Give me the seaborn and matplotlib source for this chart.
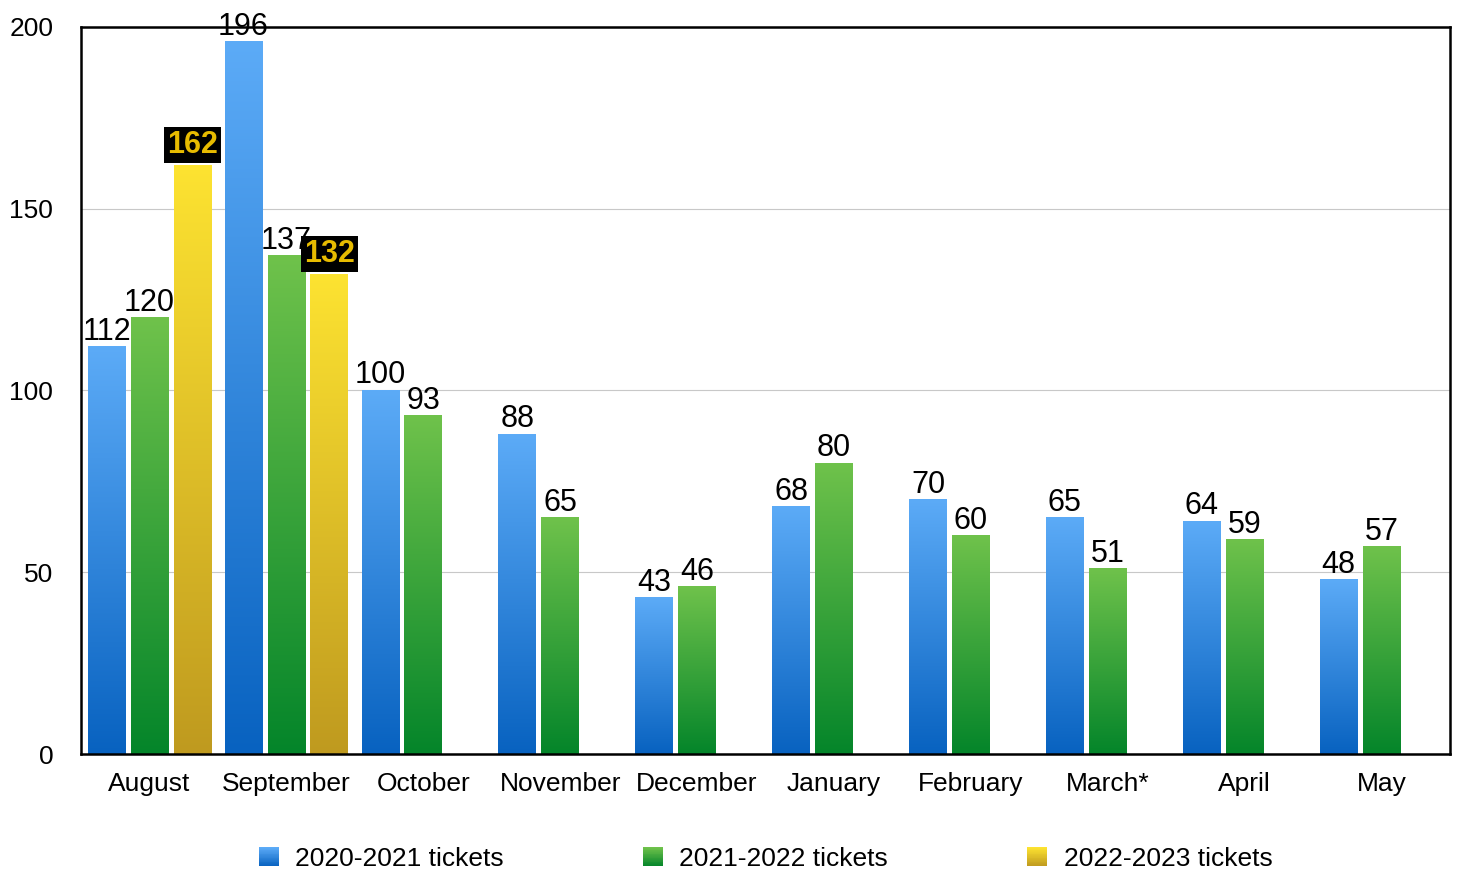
import numpy as np
import pandas as pd
import matplotlib
matplotlib.use("Agg")
import matplotlib.pyplot as plt
import seaborn as sns
from matplotlib.colors import LinearSegmentedColormap
from matplotlib.legend_handler import HandlerBase
from matplotlib.patches import Rectangle

# data
months = ["August", "September", "October", "November", "December",
          "January", "February", "March*", "April", "May"]
tickets_2020 = [112, 196, 100, 88, 43, 68, 70, 65, 64, 48]
tickets_2021 = [120, 137, 93, 65, 46, 80, 60, 51, 59, 57]
tickets_2022 = [162, 132]  # only August and September so far
seasons = ["2020-2021 tickets", "2021-2022 tickets", "2022-2023 tickets"]

# gradient colours (top, bottom) for each season
grad_colors = {
    seasons[0]: ("#5cabf7", "#0862c0"),
    seasons[1]: ("#6fc24b", "#04852a"),
    seasons[2]: ("#fde331", "#bf9a1f"),
}

rows = []
for m, v in zip(months, tickets_2020):
    rows.append((m, seasons[0], v))
for m, v in zip(months, tickets_2021):
    rows.append((m, seasons[1], v))
for m, v in zip(months, tickets_2022):
    rows.append((m, seasons[2], v))
df = pd.DataFrame(rows, columns=["month", "season", "tickets"])

sns.set_style("white")
plt.rcParams["font.family"] = ["Liberation Sans", "DejaVu Sans"]
plt.rcParams["text.color"] = "black"
plt.rcParams["xtick.color"] = "black"
plt.rcParams["ytick.color"] = "black"

fig = plt.figure(figsize=(14.58, 8.73), dpi=100)
ax = fig.add_axes([0.0556, 0.1363, 0.9389, 0.8328])

sns.barplot(data=df, x="month", y="tickets", hue="season",
            order=months, hue_order=seasons, width=0.94, gap=0.12,
            legend=False, ax=ax, zorder=2)

# paint each bar with a vertical gradient
for cont, season in zip(ax.containers, seasons):
    top, bot = grad_colors[season]
    cmap = LinearSegmentedColormap.from_list(season, [bot, top])
    for bar in cont:
        x0, y0 = bar.get_x(), bar.get_y()
        w, h = bar.get_width(), bar.get_height()
        if not np.isfinite(h):
            continue
        ax.imshow(np.linspace(0, 1, 256).reshape(-1, 1), cmap=cmap,
                  extent=[x0, x0 + w, y0, y0 + h], origin="lower",
                  aspect="auto", zorder=2.5)
        bar.set_facecolor("none")
        bar.set_edgecolor("none")

ax.set_ylim(0, 200)
ax.set_xlim(-0.5, len(months) - 0.5)

# value labels
ax.bar_label(ax.containers[0], padding=0, fontsize=22, zorder=4)
ax.bar_label(ax.containers[1], padding=0, fontsize=22, zorder=4)
ax.bar_label(ax.containers[2], padding=4, fontsize=22, fontweight="bold",
             color="#e7bb00", zorder=4,
             bbox=dict(boxstyle="square,pad=0.1", fc="black", ec="none"))

ax.set_yticks([0, 50, 100, 150, 200])
ax.yaxis.grid(True, color="#c8c8c8", linewidth=0.8, zorder=0)
ax.set_axisbelow(True)
ax.tick_params(axis="y", length=0, pad=20, labelsize=19)
ax.tick_params(axis="x", length=0, pad=13, labelsize=19)
ax.set_xlabel("")
ax.set_ylabel("")
for sp in ax.spines.values():
    sp.set_visible(True)
    sp.set_color("black")
    sp.set_linewidth(1.8)


class GradientHandler(HandlerBase):
    def __init__(self, top, bot):
        super().__init__()
        self.top, self.bot = top, bot

    def create_artists(self, legend, orig_handle, xdescent, ydescent,
                       width, height, fontsize, trans):
        cmap = LinearSegmentedColormap.from_list("g", [self.bot, self.top])
        size = height * 1.05
        x = -xdescent + (width - size) / 2
        y = -ydescent + (height - size) / 2
        n = 24
        arts = []
        for i in range(n):
            r = Rectangle((x, y + i * size / n), size, size / n + 0.3,
                          facecolor=cmap(i / (n - 1)), edgecolor="none",
                          transform=trans)
            arts.append(r)
        return arts


handles = [Rectangle((0, 0), 1, 1) for _ in seasons]
handler_map = {h: GradientHandler(*grad_colors[s]) for h, s in zip(handles, seasons)}
fig.legend(handles, seasons, handler_map=handler_map, loc="center",
           bbox_to_anchor=(0.524, 0.016), ncol=3, frameon=False,
           fontsize=19, handlelength=1.0, handletextpad=0.5,
           columnspacing=5.15)

fig.savefig("out.png", dpi=100)
